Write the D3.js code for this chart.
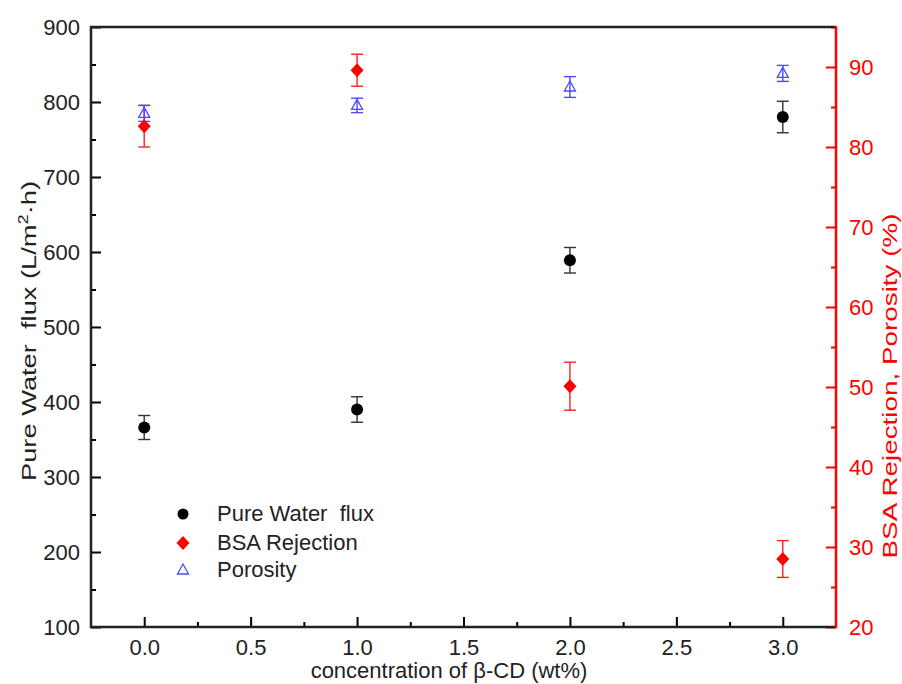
<!DOCTYPE html>
<html>
<head>
<meta charset="utf-8">
<title>flux / rejection / porosity</title>
<script src="https://cdn.jsdelivr.net/npm/d3@7"></script>
<style>
  body{ margin:0; background:#fff; }
  svg text{ font-family:"Liberation Sans", Arial, sans-serif; }
</style>
</head>
<body>
<svg id="chart" width="902" height="684"></svg>
<script>
// values
var conc = [0, 1, 2, 3];
var flux = [366, 390, 589, 780];          // L/m2.h, left axis
var fluxErr = [16, 17, 17, 21];
var bsa = [82.6, 89.6, 50.1, 28.5];       // %, right axis
var bsaErr = [2.6, 2.0, 3.0, 2.3];
var poro = [84.2, 85.2, 87.5, 89.2];      // %, right axis
var poroErr = [1.0, 0.9, 1.3, 1.0];

var xTicks = [0, 0.5, 1, 1.5, 2, 2.5, 3];
var yLeftTicks = [100, 200, 300, 400, 500, 600, 700, 800, 900];
var yRightTicks = [20, 30, 40, 50, 60, 70, 80, 90];

var L = 91, R = 836, T = 27, B = 627;
var svg = d3.select("#chart");

var x = d3.scaleLinear().domain([-0.25, 3.25]).range([L, R]);
var yL = d3.scaleLinear().domain([100, 900]).range([B, T]);
var yR = d3.scaleLinear().domain([20, 95]).range([B, T]);

// ticks (inward)
svg.append("g").attr("transform", "translate(0," + B + ")")
  .call(d3.axisBottom(x).tickValues(xTicks).tickFormat(d3.format(".1f"))
        .tickSizeInner(-10).tickSizeOuter(0).tickPadding(12));
svg.append("g").attr("transform", "translate(0," + B + ")")
  .call(d3.axisBottom(x).tickValues([0.25, 0.75, 1.25, 1.75, 2.25, 2.75])
        .tickFormat("").tickSizeInner(-5).tickSizeOuter(0));

svg.append("g").attr("transform", "translate(" + L + ",0)")
  .call(d3.axisLeft(yL).tickValues(yLeftTicks).tickFormat(d3.format("d"))
        .tickSizeInner(-10).tickSizeOuter(0).tickPadding(11));
svg.append("g").attr("transform", "translate(" + L + ",0)")
  .call(d3.axisLeft(yL).tickValues([150, 250, 350, 450, 550, 650, 750, 850])
        .tickFormat("").tickSizeInner(-5).tickSizeOuter(0));

svg.append("g").attr("class", "rax").attr("transform", "translate(" + R + ",0)")
  .call(d3.axisRight(yR).tickValues(yRightTicks).tickFormat(d3.format("d"))
        .tickSizeInner(-10).tickSizeOuter(0).tickPadding(13));
svg.append("g").attr("class", "rax").attr("transform", "translate(" + R + ",0)")
  .call(d3.axisRight(yR).tickValues([25, 35, 45, 55, 65, 75, 85, 95])
        .tickFormat("").tickSizeInner(-5).tickSizeOuter(0));

svg.selectAll(".domain").remove();
svg.selectAll(".tick line").attr("stroke-width", 2);
svg.selectAll(".tick text").attr("font-size", 22).attr("fill", "#222");
svg.selectAll(".rax .tick line").attr("stroke", "#ff0000");
svg.selectAll(".rax .tick text").attr("fill", "#ff0000");

// frame
svg.append("path").attr("d", "M" + R + "," + T + "H" + L + "V" + B + "H" + R)
  .attr("fill", "none").attr("stroke", "#222").attr("stroke-width", 2.5);
svg.append("line").attr("x1", R).attr("x2", R).attr("y1", T - 1).attr("y2", B + 1)
  .attr("stroke", "#ff0000").attr("stroke-width", 2.5);

// axis titles
svg.append("text").attr("x", 449).attr("y", 678).attr("text-anchor", "middle")
  .attr("font-size", 22).attr("fill", "#222").text("concentration of β-CD (wt%)");

var lt = svg.append("text").attr("transform", "translate(36,331) rotate(-90)")
  .attr("text-anchor", "middle").attr("font-size", 21).attr("fill", "#222")
  .attr("textLength", 300).attr("lengthAdjust", "spacingAndGlyphs");
lt.append("tspan").text("Pure Water\u00a0 flux (L/m");
lt.append("tspan").attr("dy", -8).attr("font-size", 14).text("2");
lt.append("tspan").attr("dy", 8).text("·h)");

svg.append("text").attr("transform", "translate(897,386) rotate(-90)")
  .attr("text-anchor", "middle").attr("font-size", 21).attr("fill", "#ff0000")
  .attr("textLength", 345).attr("lengthAdjust", "spacingAndGlyphs")
  .text("BSA Rejection, Porosity (%)");

// error bars
function errBars(vals, errs, y, color) {
  var g = svg.append("g").attr("stroke", color).attr("stroke-width", 1.4);
  conc.forEach(function (c, i) {
    var cx = x(c), y0 = y(vals[i] - errs[i]), y1 = y(vals[i] + errs[i]);
    g.append("line").attr("x1", cx).attr("x2", cx).attr("y1", y0).attr("y2", y1);
    g.append("line").attr("x1", cx - 6).attr("x2", cx + 6).attr("y1", y0).attr("y2", y0);
    g.append("line").attr("x1", cx - 6).attr("x2", cx + 6).attr("y1", y1).attr("y2", y1);
  });
}
errBars(flux, fluxErr, yL, "#333");
errBars(bsa, bsaErr, yR, "#ff2020");
errBars(poro, poroErr, yR, "#4a4aff");

var diamond = "M0,-7L6.5,0L0,7L-6.5,0Z";
var tri = "M0,-6L5.5,4L-5.5,4Z";

svg.selectAll(".flux").data(flux).enter().append("circle")
  .attr("cx", function (d, i) { return x(conc[i]); })
  .attr("cy", function (d) { return yL(d); })
  .attr("r", 6).attr("fill", "#000");

svg.selectAll(".bsa").data(bsa).enter().append("path")
  .attr("d", diamond).attr("fill", "#ff0000")
  .attr("transform", function (d, i) { return "translate(" + x(conc[i]) + "," + yR(d) + ")"; });

svg.selectAll(".poro").data(poro).enter().append("path")
  .attr("d", tri).attr("fill", "none").attr("stroke", "#4a4aff").attr("stroke-width", 1.3)
  .attr("transform", function (d, i) { return "translate(" + x(conc[i]) + "," + yR(d) + ")"; });

// legend
var leg = svg.append("g");
leg.append("circle").attr("cx", 183).attr("cy", 514).attr("r", 5.5).attr("fill", "#000");
leg.append("path").attr("d", diamond).attr("fill", "#ff0000").attr("transform", "translate(183,543)");
leg.append("path").attr("d", tri).attr("fill", "none").attr("stroke", "#4a4aff")
  .attr("stroke-width", 1.3).attr("transform", "translate(183,570)");
var labels = ["Pure Water\u00a0 flux", "BSA Rejection", "Porosity"];
var baselines = [521, 550, 577];
labels.forEach(function (t, i) {
  leg.append("text").attr("x", 217).attr("y", baselines[i]).attr("font-size", 22)
    .attr("fill", "#222").text(t);
});
</script>
</body>
</html>
